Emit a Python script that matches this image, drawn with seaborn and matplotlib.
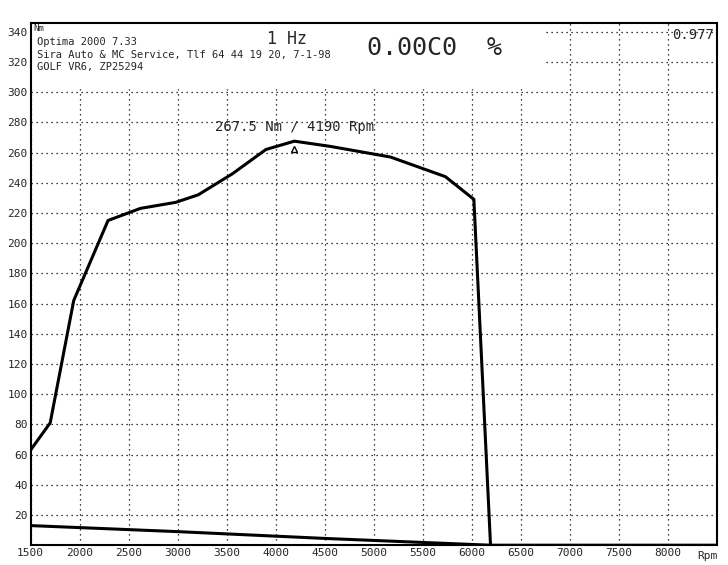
import matplotlib
matplotlib.use("Agg")
import matplotlib.pyplot as plt
import seaborn as sns
import pandas as pd

rpm = [1500, 1700, 1940, 2290, 2620, 2980, 3210, 3560, 3900, 4190, 4560, 5170, 5730, 6020, 6190]
torque = [63, 81, 162, 215, 223, 227, 232, 246, 262, 267.5, 264, 257, 244, 229, 0]
loss_rpm = [1500, 3000, 4500, 6000, 6190, 8500]
loss = [13, 9, 4.5, 0.5, 0, 0]
xticks = [1500, 2000, 2500, 3000, 3500, 4000, 4500, 5000, 5500, 6000, 6500, 7000, 7500, 8000]
yticks = list(range(20, 341, 20))

sns.set_theme(style="white")
plt.rcParams['font.family'] = ['DejaVu Sans Mono', 'DejaVu Sans']
fig, ax = plt.subplots(figsize=(7.28, 5.65), dpi=100)
fig.subplots_adjust(left=0.042, right=0.985, bottom=0.035, top=0.96)

sns.lineplot(data=pd.DataFrame({"rpm": rpm, "t": torque}), x="rpm", y="t", ax=ax,
             color="black", lw=2.2, sort=False, estimator=None)
sns.lineplot(data=pd.DataFrame({"rpm": loss_rpm, "t": loss}), x="rpm", y="t", ax=ax,
             color="black", lw=2.2, sort=False, estimator=None)

ax.set_xlim(1500, 8500)
ax.set_ylim(0, 346)
ax.set_xticks(xticks)
ax.set_yticks(yticks)
ax.tick_params(labelsize=8, length=0, pad=2)
ax.grid(True, color="black", ls=(0, (1, 3)), lw=0.9)
ax.set_xlabel("")
ax.set_ylabel("")
for s in ax.spines.values():
    s.set_color("black")
    s.set_linewidth(1.5)

# white header panel like the reference
ax.axhspan(303, 346, xmin=0.0, xmax=0.745, color="white", zorder=1.5)

ax.text(1.0, -0.011, "Rpm", transform=ax.transAxes, ha="right", va="top", fontsize=8)
ax.text(0.004, 0.997, "Nm", transform=ax.transAxes, ha="left", va="top", fontsize=6.5, zorder=3)
ax.text(0.01, 0.972,
        "Optima 2000 7.33\nSira Auto & MC Service, Tlf 64 44 19 20, 7-1-98\nGOLF VR6, ZP25294",
        transform=ax.transAxes, ha="left", va="top", fontsize=7.5, linespacing=1.3, zorder=3)
ax.text(0.345, 0.985, "1 Hz", transform=ax.transAxes, ha="left", va="top", fontsize=12, zorder=3)
ax.text(0.49, 0.975, "0.00C0  %", transform=ax.transAxes, ha="left", va="top", fontsize=18, zorder=3)
ax.text(0.995, 0.99, "0.977", transform=ax.transAxes, ha="right", va="top", fontsize=10, zorder=3)

ax.plot([4190], [262.5], marker="^", mfc="white", mec="black", ms=4)
ax.text(4190, 272, "267.5 Nm / 4190 Rpm", ha="center", va="bottom", fontsize=10)

fig.savefig("out.png", dpi=100)
